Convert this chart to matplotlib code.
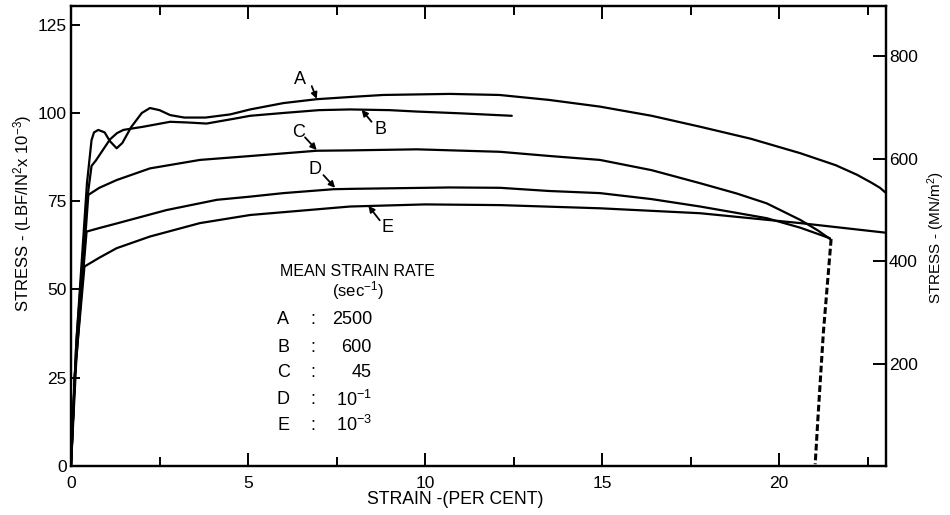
import matplotlib
matplotlib.use("Agg")
import matplotlib.pyplot as plt
import numpy as np

plt.rcParams['font.family'] = ['Liberation Sans', 'DejaVu Sans']
plt.rcParams['mathtext.fontset'] = 'custom'
plt.rcParams['mathtext.rm'] = 'Liberation Sans'
plt.rcParams['mathtext.it'] = 'Liberation Sans'
plt.rcParams['mathtext.default'] = 'regular'

# ---- data (strain %, stress ksi) ----
strain_A = [0, 0.15, 0.45, 0.58, 0.65, 0.77, 0.95, 1.1, 1.29, 1.45, 1.7, 2.0, 2.23, 2.5, 2.8, 3.2,
            3.8, 4.5, 5.06, 6.0, 6.94, 8.0, 8.82, 10.7, 12.1, 13.5, 14.94, 16.4, 17.77, 19.2, 20.6,
            21.6, 22.2, 22.6, 22.85, 23.0]
stress_A = [0, 35, 80, 92.3, 94.5, 95.2, 94.5, 92.0, 90.0, 91.5, 96.0, 100.0, 101.4, 100.8, 99.4, 98.7,
            98.7, 99.6, 101.0, 102.8, 103.9, 104.6, 105.1, 105.4, 105.1, 103.7, 101.8, 99.2, 96.1, 92.7, 88.6,
            85.2, 82.5, 80.3, 78.8, 77.5]

strain_B = [0, 0.15, 0.45, 0.58, 0.7, 0.9, 1.1, 1.3, 1.48, 2.04, 2.8, 3.3, 3.83, 4.68, 5.06, 6.0, 7.0,
            7.88, 9.0, 9.77, 11.0, 12.45]
stress_B = [0, 35, 75, 85.0, 86.5, 89.5, 92.5, 94.3, 95.2, 96.1, 97.5, 97.3, 97.0, 98.5, 99.2, 100.0, 100.8,
            101.0, 100.8, 100.4, 99.9, 99.2]

strain_C = [0, 0.15, 0.49, 0.8, 1.29, 2.23, 3.64, 5.06, 6.94, 7.88, 9.77, 12.12, 13.53, 14.94, 16.4,
            17.77, 18.8, 19.65, 20.6, 21.1, 21.44]
stress_C = [0, 30, 76.8, 78.8, 81.0, 84.3, 86.7, 87.8, 89.3, 89.4, 89.7, 89.0, 87.8, 86.7, 83.8,
            80.1, 77.2, 74.4, 69.7, 66.7, 64.3]

strain_D = [0, 0.12, 0.44, 0.8, 1.29, 2.7, 4.12, 5.06, 6.0, 7.41, 7.88, 10.7, 12.12, 13.5, 14.94, 16.4,
            17.77, 18.8, 19.65, 20.6, 21.44]
stress_D = [0, 28, 66.4, 67.4, 68.7, 72.5, 75.4, 76.3, 77.3, 78.4, 78.5, 78.9, 78.8, 77.9, 77.3, 75.6,
            73.5, 71.7, 70.2, 67.5, 64.5]

strain_E = [0, 0.1, 0.38, 0.8, 1.29, 2.23, 3.64, 5.06, 7.88, 10.0, 12.12, 14.94, 17.77, 20.6, 23.0]
stress_E = [0, 25, 56.5, 59.0, 61.7, 65.0, 68.8, 71.1, 73.5, 74.1, 73.9, 73.0, 71.6, 68.8, 66.1]

# fracture (dashed) unloading of C/D
strain_F = [21.47, 21.25, 21.1, 21.02]
stress_F = [64.3, 37.7, 14.0, 0.5]

curve_labels = ['A', 'B', 'C', 'D', 'E']
rate_values = ['2500', '600', '45', r'10$^{-1}$', r'10$^{-3}$']
label_xy = [(6.47, 109.5), (8.73, 95.2), (6.42, 94.4), (6.89, 83.9), (8.95, 67.6)]
arrow_from = [(6.80, 107.6), (8.49, 97.5), (6.61, 93.1), (7.13, 82.4), (8.72, 69.6)]
arrow_to = [(6.94, 104.0), (8.21, 100.9), (6.94, 89.5), (7.46, 78.8), (8.40, 73.7)]

x_major = [0, 5, 10, 15, 20]
x_minor = [2.5, 7.5, 12.5, 17.5, 22.5]
y_left = [0, 25, 50, 75, 100, 125]
y_right = [200, 400, 600, 800]
KSI_TO_MPA = 6.895

fig = plt.figure(figsize=(9.5, 5.15), dpi=100)
ax = fig.add_axes([71/950, 1-466/515, (886-71)/950, (466-6)/515])

lw = 1.6
for sx, sy in [(strain_A, stress_A), (strain_B, stress_B), (strain_C, stress_C),
               (strain_D, stress_D), (strain_E, stress_E)]:
    ax.plot(sx, sy, color='black', lw=lw, solid_joinstyle='round', solid_capstyle='round')
ax.plot(strain_F, stress_F, color='black', lw=2.2, dashes=(2.2, 1.0))

ax.set_xlim(0, 23.02)
ax.set_ylim(0, 130.3)

for lab, (tx, ty), (fx, fy), (px, py) in zip(curve_labels, label_xy, arrow_from, arrow_to):
    ax.text(tx, ty, lab, fontsize=13, ha='center', va='center')
    ax.annotate('', xy=(px, py), xytext=(fx, fy),
                arrowprops=dict(arrowstyle='-|>', lw=1.3, color='black',
                                shrinkA=0, shrinkB=0, mutation_scale=9))

# legend block
ax.text(5.9, 55.0, 'MEAN STRAIN RATE', fontsize=11.5, ha='left', va='center')
ax.text(8.1, 49.6, r'(sec$^{-1}$)', fontsize=12, ha='center', va='center')
row_y = [41.4, 33.7, 26.6, 18.7, 11.6]
for lab, val, yy in zip(curve_labels, rate_values, row_y):
    ax.text(6.0, yy, lab, fontsize=13, ha='center', va='center')
    ax.text(6.84, yy, ':', fontsize=13, ha='center', va='center')
    ax.text(8.5, yy, val, fontsize=13, ha='right', va='center')

for s in ax.spines.values():
    s.set_linewidth(1.6)

ax.set_xticks(x_major)
ax.set_xticks(x_minor, minor=True)
ax.set_yticks(y_left)
ax.tick_params(axis='x', which='major', direction='in', length=9.5, width=1.4,
               labelsize=12.5, pad=7, top=True)
ax.tick_params(axis='x', which='minor', direction='in', length=6.5, width=1.4, top=True)
ax.tick_params(axis='y', which='major', direction='in', length=6.5, width=1.4,
               labelsize=12.5, pad=3)

ax2 = ax.twinx()
ax2.set_ylim(0, 130.3 * KSI_TO_MPA)
ax2.set_yticks(y_right)
ax2.tick_params(axis='y', direction='in', length=9.5, width=1.4, labelsize=12.5, pad=2)
for s in ax2.spines.values():
    s.set_linewidth(1.6)

fig.text(455/950, 1-500/515, 'STRAIN -(PER CENT)', fontsize=12.7, ha='center', va='center')
fig.text(23/950, 1-213/515, r'STRESS - (LBF/IN$^2$x 10$^{-3}$)', fontsize=12,
         ha='center', va='center', rotation=90)
fig.text(936/950, 1-238/515, r'STRESS - (MN/m$^2$)', fontsize=11,
         ha='center', va='center', rotation=90)

fig.savefig('out.png', dpi=100)
